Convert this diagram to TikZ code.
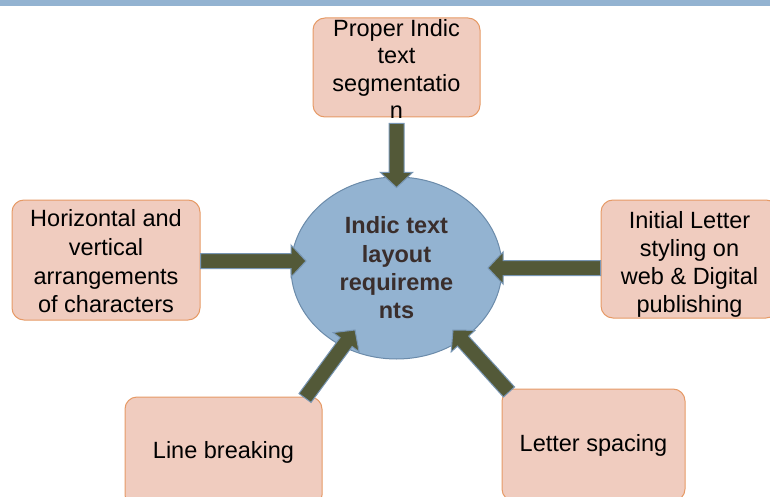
\documentclass[tikz,border=0pt]{standalone}
\usepackage{fontspec}
\setmainfont{Liberation Sans}
\usetikzlibrary{calc,shapes.geometric}
\definecolor{barcol}{HTML}{93B3D1}
\definecolor{boxfill}{HTML}{F0CCBF}
\definecolor{boxline}{HTML}{E69A66}
\definecolor{ellfill}{HTML}{93B3D1}
\definecolor{ellline}{HTML}{6B8BAA}
\definecolor{arrfill}{HTML}{535938}
\definecolor{arrline}{HTML}{7896B4}
\definecolor{ctext}{HTML}{3A2E2C}
\newcommand\blockarrow[2]{%
  \coordinate (ba-n) at ($(#2)!15pt!(#1)$);
  \filldraw[arrowsty] ($(#1)!7.5pt!90:(#2)$) -- ($(ba-n)!7.5pt!-90:(#1)$) -- ($(ba-n)!16pt!-90:(#1)$) -- (#2) -- ($(ba-n)!16pt!90:(#1)$) -- ($(ba-n)!7.5pt!90:(#1)$) -- ($(#1)!7.5pt!-90:(#2)$) -- cycle;}
\tikzset{
  boxsty/.style={draw=boxline, fill=boxfill, line width=1pt, rounded corners=12pt, inner sep=0pt},
  txt/.style={align=center, inner sep=0pt, font=\fontsize{23.5}{28}\selectfont},
  arrowsty/.style={fill=arrfill, draw=arrline, line width=1pt, line join=miter},
  ellsty/.style={ellipse, draw=ellline, fill=ellfill, line width=1pt, inner sep=0pt,
     align=center, text=ctext, font=\fontsize{23.5}{28.3}\selectfont\bfseries}
}
\begin{document}
\begin{tikzpicture}[x=1pt,y=-1pt]
\useasboundingbox (0,0) rectangle (770,497);
\clip (0,0) rectangle (770,497);
\fill[barcol] (0,0) rectangle (770,6);

\node[ellsty, minimum width=211pt, minimum height=182pt] (core) at (396.5,268) {Indic text\\layout\\requireme\\nts};

\node[boxsty, minimum width=167pt, minimum height=99pt] (seg) at (396.5,67.5) {};
\node[txt, font=\fontsize{23.5}{27.2}\selectfont] (seg-t) at (396.5,69) {Proper Indic\\text\\segmentatio\\n};

\node[boxsty, minimum width=188pt, minimum height=120pt] (hv) at (106,260) {};
\node[txt, font=\fontsize{23.5}{28.7}\selectfont] (hv-t) at (106,261.5) {Horizontal and\\vertical\\arrangements\\of characters};

\node[boxsty, minimum width=177pt, minimum height=118pt] (ini) at (689.5,259) {};
\node[txt] (ini-t) at (689.5,264.5) {Initial Letter\\styling on\\web \& Digital\\publishing};

\node[boxsty, minimum width=197pt, minimum height=110pt] (lb) at (223.5,452) {};
\node[txt] (lb-t) at (223.5,452) {Line breaking};

\node[boxsty, minimum width=183pt, minimum height=112pt] (ls) at (593.5,445) {};
\node[txt] (ls-t) at (593.5,445) {Letter spacing};

\coordinate (a1s) at ($(seg.south)+(0,6)$);
\coordinate (a1e) at ($(core.north)+(0,11)$);
\coordinate (a2s) at (hv.east |- 0,261);
\coordinate (a2e) at (306,261);
\coordinate (a3s) at (ini.west |- 0,268);
\coordinate (a3e) at (488,268);
\coordinate (a4s) at (305,398);
\coordinate (a4e) at (355,330);
\coordinate (a5s) at (509,392);
\coordinate (a5e) at (453,330);

\blockarrow{a1s}{a1e}
\blockarrow{a2s}{a2e}
\blockarrow{a3s}{a3e}
\blockarrow{a4s}{a4e}
\blockarrow{a5s}{a5e}
\end{tikzpicture}
\end{document}
